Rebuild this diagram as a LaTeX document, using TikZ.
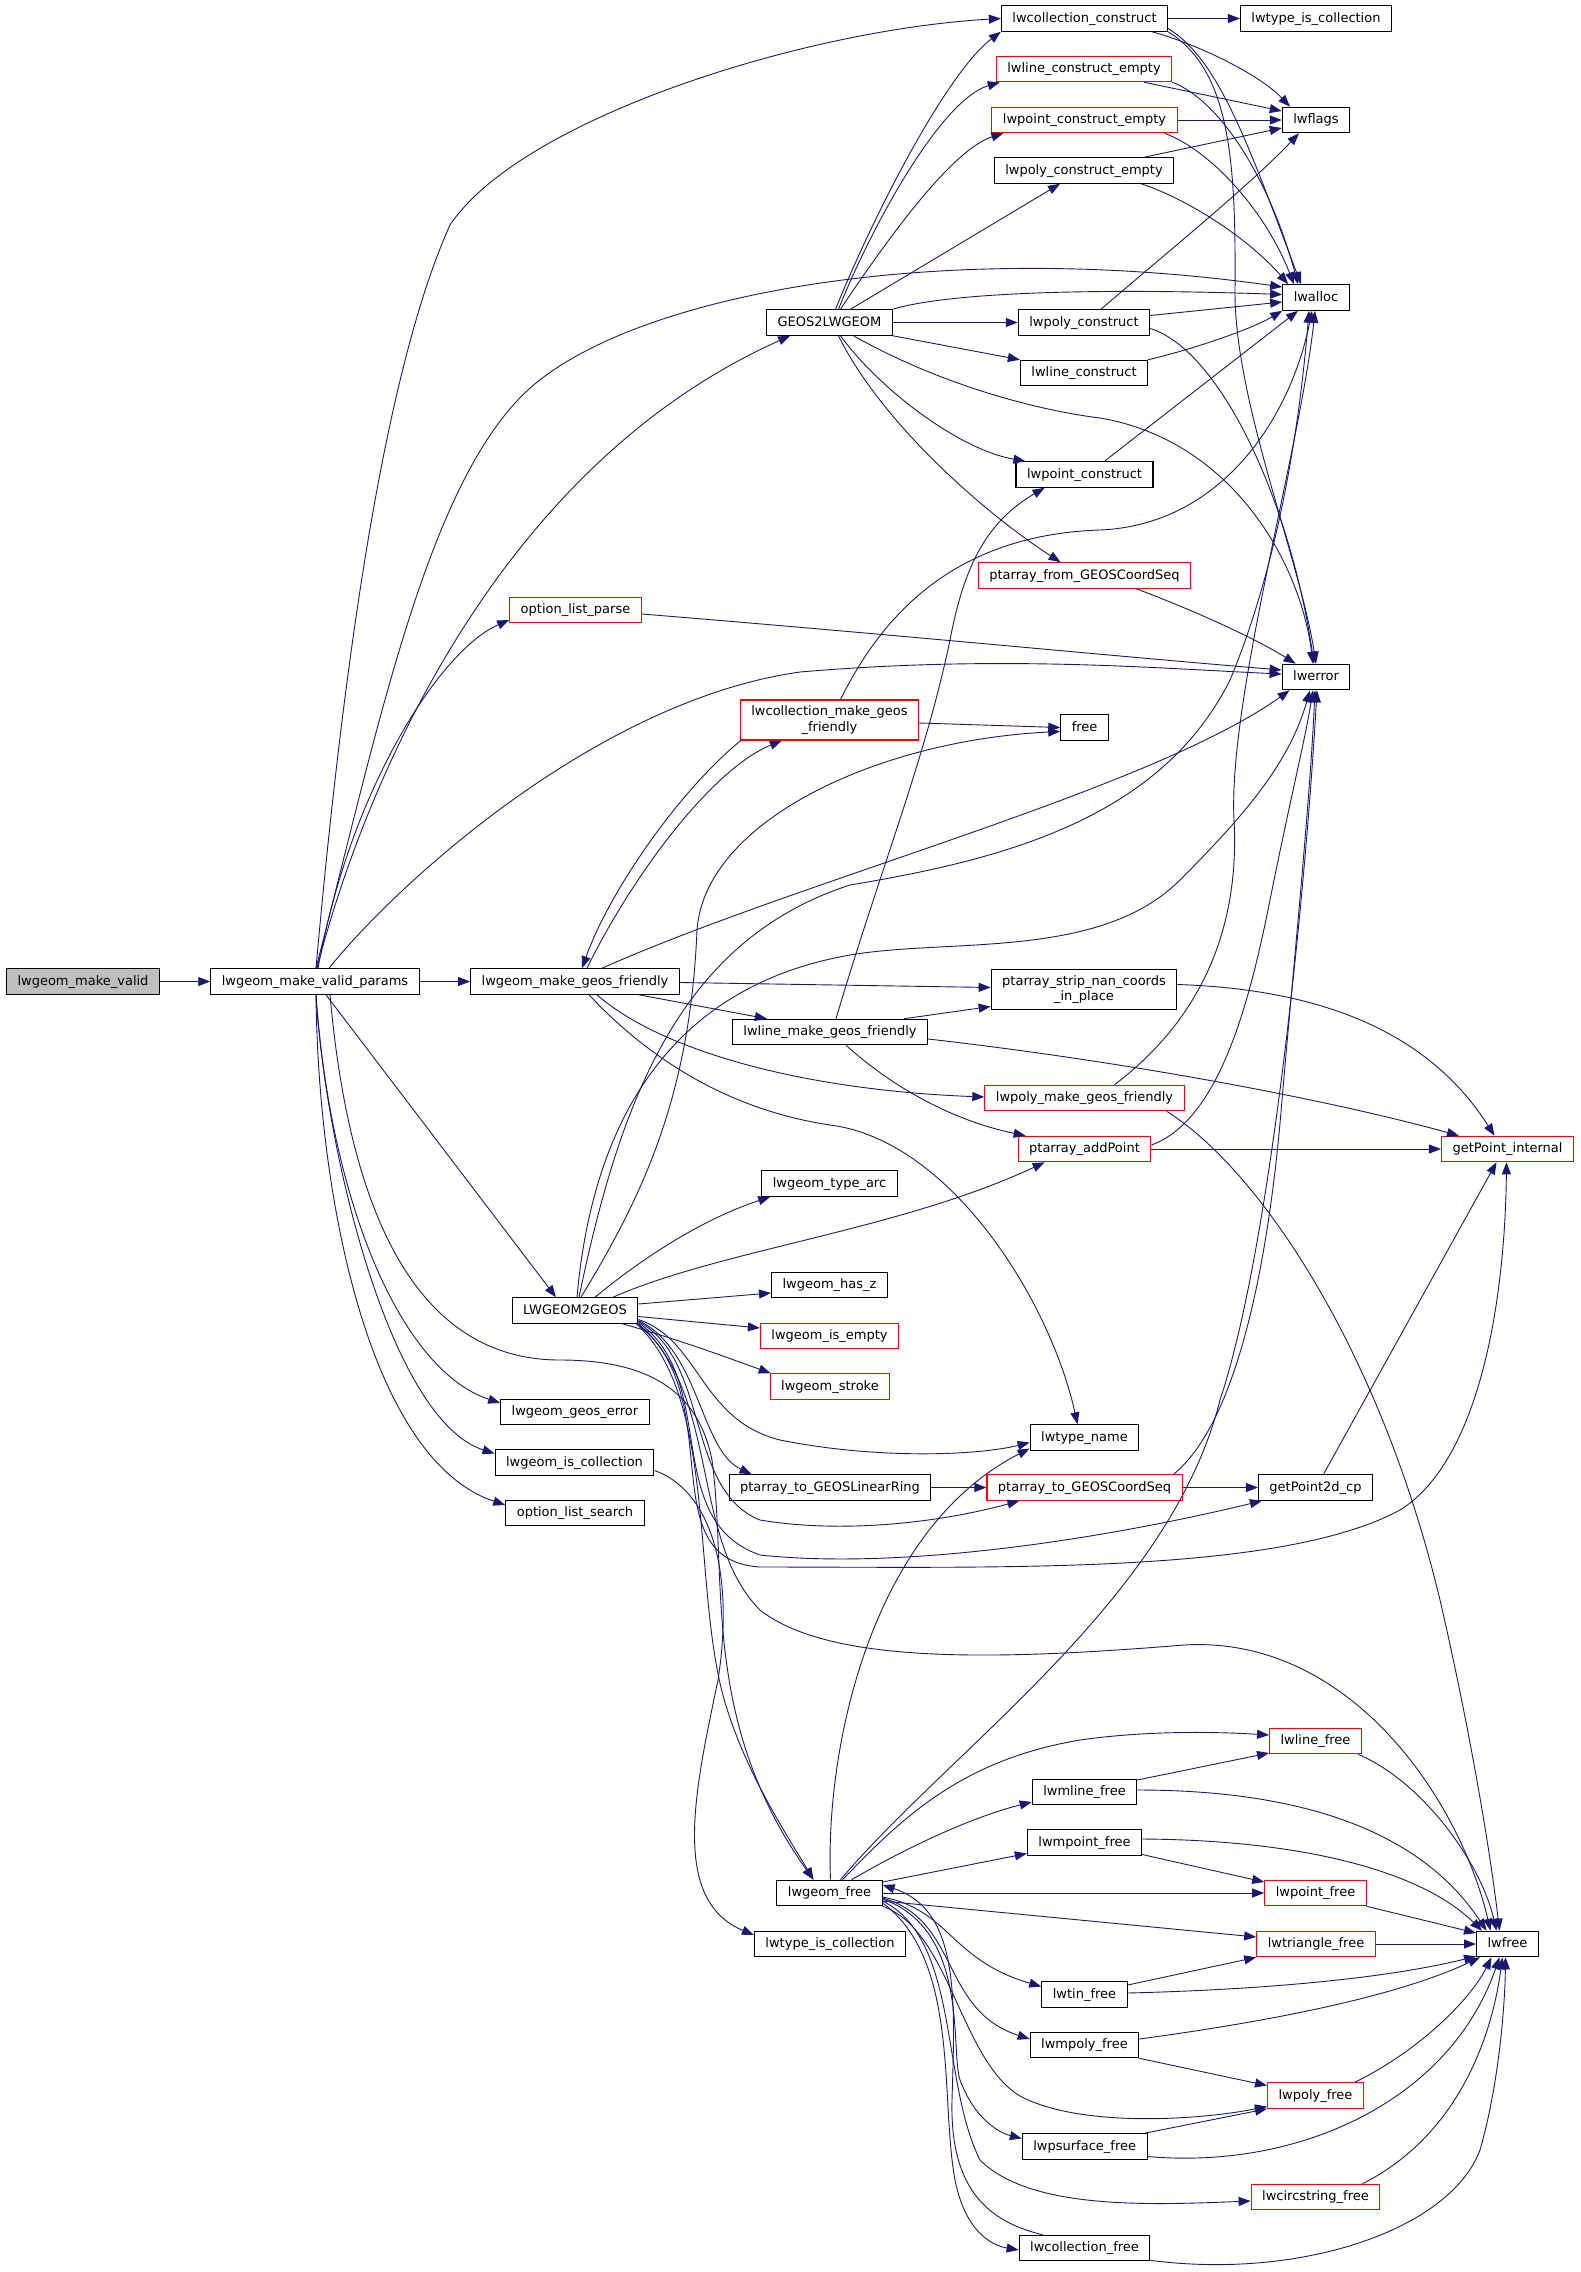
\documentclass[tikz,border=0pt]{standalone}
\usepackage{fontspec}
\setmainfont{DejaVu Sans}
\usetikzlibrary{arrows.meta,calc}
\definecolor{edgeblue}{HTML}{191970}
\definecolor{boxgray}{HTML}{BFBFBF}
\tikzset{
  fn/.style={draw=black, line width=1.1pt, fill=white, inner xsep=11pt, inner ysep=0pt,
    minimum height=25.5pt, font=\fontsize{13}{15.3}\selectfont, text height=10pt, text depth=2.2pt},
  fnr/.style={fn, draw=red},
  fng/.style={fn, fill=boxgray},
  fntwo/.style={draw=red, line width=1.1pt, fill=white, inner xsep=11pt, inner ysep=0pt,
    minimum height=40pt, font=\fontsize{13}{15.3}\selectfont, align=center},
  e/.style={draw=edgeblue, line width=0.9pt, -{Triangle[length=12pt,width=9pt]}},
}
\begin{document}
\begin{tikzpicture}[x=1pt,y=-1pt]
\fill[white] (0,0) rectangle (1580,2272);
\useasboundingbox (0,0) rectangle (1580,2272);
% ---------- nodes ----------
\node[fng] (mv) at (83,981.5) {lwgeom\_make\_valid};
\node[fn] (mvp) at (315,981.5) {lwgeom\_make\_valid\_params};
\node[fnr] (olp) at (575.5,610) {option\_list\_parse};
\node[fn] (lmgf) at (575,981.5) {lwgeom\_make\_geos\_friendly};
\node[fn] (l2g) at (575,1310.5) {LWGEOM2GEOS};
\node[fn] (lge) at (575,1412) {lwgeom\_geos\_error};
\node[fn] (lgic) at (574.5,1462.5) {lwgeom\_is\_collection};
\node[fn] (ols) at (575,1513) {option\_list\_search};
\node[fn] (g2l) at (829.5,322.5) {GEOS2LWGEOM};
\node[fntwo] (lcmgf) at (829.5,720) {lwcollection\_make\_geos\\\_friendly};
\node[fn] (llmgf) at (830,1032) {lwline\_make\_geos\_friendly};
\node[fn] (lta) at (829.5,1183.5) {lwgeom\_type\_arc};
\node[fn] (lhz) at (829.5,1285) {lwgeom\_has\_z};
\node[fnr] (lie) at (829.5,1336) {lwgeom\_is\_empty};
\node[fnr] (lst) at (830,1386.5) {lwgeom\_stroke};
\node[fn] (ptlr) at (830,1487.5) {ptarray\_to\_GEOSLinearRing};
\node[fn] (lgf) at (829.5,1893) {lwgeom\_free};
\node[fn] (ltic2) at (830,1944) {lwtype\_is\_collection};
\node[fn] (lcc) at (1084.5,18.5) {lwcollection\_construct};
\node[fnr] (llce) at (1084,69) {lwline\_construct\_empty};
\node[fnr] (lpce) at (1084.5,120) {lwpoint\_construct\_empty};
\node[fn] (lpyce) at (1084,170.5) {lwpoly\_construct\_empty};
\node[fn] (lpyc) at (1084,322.5) {lwpoly\_construct};
\node[fn] (llc) at (1084,373) {lwline\_construct};
\node[fn] (lptc) at (1084.5,474.5) {lwpoint\_construct};
\node[fnr] (pfg) at (1084.5,575.5) {ptarray\_from\_GEOSCoordSeq};
\node[fn] (fr) at (1084.6,727.5) {free};
\node[fntwo, draw=black] (psn) at (1084,989.5) {ptarray\_strip\_nan\_coords\\\_in\_place};
\node[fnr] (lpmgf) at (1084.5,1098) {lwpoly\_make\_geos\_friendly};
\node[fnr] (pap) at (1084.5,1149) {ptarray\_addPoint};
\node[fn] (ltn) at (1084.5,1437.5) {lwtype\_name};
\node[fnr] (ptcs) at (1084.5,1487.5) {ptarray\_to\_GEOSCoordSeq};
\node[fn] (lmlf) at (1084.5,1792) {lwmline\_free};
\node[fn] (lmptf) at (1084.5,1842.5) {lwmpoint\_free};
\node[fn] (ltinf) at (1084.5,1994.5) {lwtin\_free};
\node[fn] (lmpyf) at (1084.5,2045) {lwmpoly\_free};
\node[fn] (lpsf) at (1084.7,2146.5) {lwpsurface\_free};
\node[fn] (lcf) at (1084.5,2248) {lwcollection\_free};
\node[fn] (ltic) at (1316,18.5) {lwtype\_is\_collection};
\node[fn] (lfl) at (1316,120) {lwflags};
\node[fn] (lal) at (1316,297.5) {lwalloc};
\node[fn] (ler) at (1316,677) {lwerror};
\node[fn] (gp2) at (1315.5,1487.5) {getPoint2d\_cp};
\node[fnr] (llf) at (1315.5,1741) {lwline\_free};
\node[fnr] (lptf) at (1315.5,1893) {lwpoint\_free};
\node[fnr] (ltrf) at (1316,1944) {lwtriangle\_free};
\node[fnr] (lpyf) at (1315.5,2095.5) {lwpoly\_free};
\node[fnr] (lcsf) at (1315.5,2197) {lwcircstring\_free};
\node[fnr] (gpi) at (1507.5,1149) {getPoint\_internal};
\node[fn] (lfr) at (1507.5,1944) {lwfree};
% ---------- edges ----------
% lwgeom_make_valid / params
\draw[e] (mv.east) -- (mvp.west);
\draw[e] ($(mvp.north)+(1,0)$) .. controls (340,700) and (380,380) .. (450,225) .. controls (520,120) and (800,30) .. (lcc.west);
\draw[e] ($(mvp.north)+(1,0)$) .. controls (380,720) and (430,470) .. (536,383) .. controls (650,290) and (950,240) .. ($(lal.west)+(0,-10.5)$);
\draw[e] ($(mvp.north)+(2,0)$) .. controls (360,800) and (490,470) .. ($(g2l.south west)+(24,0)$);
\draw[e] ($(mvp.north)+(3,0)$) .. controls (350,790) and (440,650) .. ($(olp.west)+(0,10)$);
\draw[e] ($(mvp.north)+(14,0)$) .. controls (400,880) and (600,700) .. (800,672) .. controls (1000,655) and (1150,668) .. ($(ler.west)+(0,-3)$);
\draw[e] (mvp.east) -- (lmgf.west);
\draw[e] ($(mvp.south)+(11,0)$) -- ($(l2g.north)+(-19,0)$);
\draw[e] ($(mvp.south)+(1,0)$) .. controls (330,1200) and (400,1370) .. ($(lge.west)+(0,-9)$);
\draw[e] ($(mvp.south)+(1,0)$) .. controls (325,1150) and (390,1420) .. ($(lgic.west)+(0,-9)$);
\draw[e] ($(mvp.south)+(1,0)$) .. controls (318,1200) and (370,1460) .. ($(ols.west)+(0,-8)$);
\draw[e] ($(mvp.south)+(15,0)$) .. controls (350,1220) and (420,1360) .. (560,1360) .. controls (660,1360) and (700,1400) .. (712,1460) .. controls (728,1580) and (700,1720) .. ($(lgf.north)+(-16,0)$);
% GEOS2LWGEOM
\draw[e] ($(g2l.north)+(6,0)$) .. controls (880,200) and (950,70) .. (lcc.south west);
\draw[e] ($(g2l.north)+(9,0)$) .. controls (870,230) and (940,100) .. ($(llce.south west)+(4,0)$);
\draw[e] ($(g2l.north)+(11,0)$) .. controls (880,250) and (950,150) .. ($(lpce.south west)+(12,0)$);
\draw[e] ($(g2l.north)+(21,0)$) -- ($(lpyce.south)+(-24,0)$);
\draw[e] (g2l.north east) .. controls (950,292) and (1100,288) .. ($(lal.west)+(0,-3)$);
\draw[e] (g2l.east) -- (lpyc.west);
\draw[e] (g2l.south east) -- (llc.north west);
\draw[e] ($(g2l.south)+(24,0)$) .. controls (950,390) and (1050,412) .. (1100,418) .. controls (1230,440) and (1300,560) .. ($(ler.north)+(-3,0)$);
\draw[e] ($(g2l.south)+(11,0)$) .. controls (880,390) and (960,450) .. ($(lptc.north west)+(10,0)$);
\draw[e] ($(g2l.south)+(9,0)$) .. controls (880,420) and (980,510) .. ($(pfg.north)+(-24,0)$);
% constructors
\draw[e] (lcc.east) -- (ltic.west);
\draw[e] ($(lcc.south east)+(-16,0)$) .. controls (1200,45) and (1260,75) .. ($(lfl.north)+(-26,0)$);
\draw[e] ($(lcc.east)+(0,10)$) .. controls (1220,60) and (1250,150) .. ($(lal.north)+(-15,0)$);
\draw[e] (lcc.south east) .. controls (1230,70) and (1236,160) .. (1235,290) .. controls (1234,400) and (1300,560) .. (ler.north);
\draw[e] ($(llce.south east)+(-28,0)$) -- ($(lfl.west)+(0,-9)$);
\draw[e] (llce.south east) .. controls (1220,100) and (1270,180) .. ($(lal.north)+(-18,0)$);
\draw[e] (lpce.east) -- (lfl.west);
\draw[e] ($(lpce.south east)+(-13,0)$) .. controls (1210,150) and (1265,210) .. ($(lal.north)+(-22,0)$);
\draw[e] ($(lpyce.north east)+(-30,0)$) -- ($(lfl.west)+(0,8)$);
\draw[e] ($(lpyce.south east)+(-33,0)$) .. controls (1190,200) and (1250,240) .. ($(lal.north west)+(6,0)$);
\draw[e] ($(lpyc.north)+(17,0)$) .. controls (1170,250) and (1250,185) .. ($(lfl.south)+(-17,0)$);
\draw[e] ($(lpyc.east)+(0,-7)$) -- ($(lal.west)+(0,4.5)$);
\draw[e] ($(lpyc.east)+(0,6)$) .. controls (1220,350) and (1290,500) .. ($(ler.north)+(-2,0)$);
\draw[e] (llc.north east) .. controls (1190,350) and (1250,330) .. (lal.south west);
\draw[e] ($(lptc.north)+(20,0)$) -- ($(lal.south)+(-18,0)$);
\draw[e] ($(pfg.south east)+(-55,0)$) .. controls (1180,605) and (1250,635) .. ($(ler.north west)+(14,0)$);
% into lwalloc from below
\draw[e] ($(lcmgf.north)+(11,0)$) .. controls (880,620) and (950,535) .. (1100,530) .. controls (1220,525) and (1290,420) .. ($(lal.south)+(-4,0)$);
\draw[e] ($(l2g.north)+(4,0)$) .. controls (620,1100) and (680,940) .. (850,885) .. controls (1000,860) and (1160,820) .. (1230,680) .. controls (1280,560) and (1300,420) .. ($(lal.south)+(-7,0)$);
\draw[e] ($(lpmgf.north)+(30,0)$) .. controls (1200,1020) and (1240,930) .. (1234,820) .. controls (1228,700) and (1300,450) .. ($(lal.south)+(-1,0)$);
% into lwerror
\draw[e] ($(olp.east)+(0,4)$) .. controls (900,635) and (1100,655) .. ($(ler.west)+(0,-7)$);
\draw[e] ($(lmgf.north)+(27,0)$) .. controls (800,880) and (1150,790) .. ($(ler.south west)+(8,0)$);
\draw[e] ($(l2g.north)+(2,0)$) .. controls (590,1150) and (650,990) .. (850,955) .. controls (950,938) and (1100,960) .. (1180,880) .. controls (1250,810) and (1290,760) .. ($(ler.south)+(-6,0)$);
\draw[e] ($(pap.east)+(0,-4)$) .. controls (1220,1120) and (1250,1000) .. (1270,900) .. controls (1290,800) and (1305,740) .. ($(ler.south)+(-3,0)$);
\draw[e] ($(ptcs.north east)+(-9,0)$) .. controls (1240,1420) and (1270,1250) .. (1282,1100) .. controls (1295,950) and (1310,800) .. ($(ler.south)+(-1,0)$);
\draw[e] ($(lgf.north)+(11,0)$) .. controls (950,1750) and (1170,1600) .. (1220,1400) .. controls (1270,1250) and (1305,900) .. ($(ler.south)+(1,0)$);
% free
\draw[e] ($(lcmgf.east)+(0,3)$) -- (fr.west);
\draw[e] ($(l2g.north)+(6,0)$) .. controls (640,1200) and (690,1100) .. (697,930) .. controls (705,820) and (880,740) .. ($(fr.west)+(0,4)$);
% make_geos_friendly family
\draw[e] ($(lcmgf.south west)+(1,0)$) .. controls (680,790) and (610,890) .. ($(lmgf.north)+(7,0)$);
\draw[e] ($(lmgf.north)+(12,0)$) .. controls (630,880) and (710,770) .. ($(lcmgf.south west)+(42,0)$);
\draw[e] ($(lmgf.east)+(0,1)$) -- ($(psn.west)+(0,-2)$);
\draw[e] ($(lmgf.south east)+(-41,0)$) -- ($(llmgf.north west)+(35,0)$);
\draw[e] ($(lmgf.south)+(22,0)$) .. controls (660,1050) and (800,1090) .. ($(lpmgf.west)+(0,-1)$);
\draw[e] ($(lmgf.south)+(14,0)$) .. controls (650,1060) and (730,1110) .. (830,1125) .. controls (950,1140) and (1050,1300) .. ($(ltn.north)+(-7,0)$);
\draw[e] ($(llmgf.north east)+(-24,0)$) -- ($(psn.west)+(0,17)$);
\draw[e] ($(llmgf.east)+(0,7)$) .. controls (1130,1062) and (1330,1100) .. ($(gpi.north west)+(18,0)$);
\draw[e] ($(llmgf.south)+(16,0)$) .. controls (890,1085) and (950,1120) .. ($(pap.north west)+(8,0)$);
\draw[e] ($(llmgf.north)+(6,0)$) .. controls (880,870) and (925,760) .. (950,640) .. controls (965,560) and (990,520) .. ($(lptc.south)+(-40,0)$);
\draw[e] ($(lpmgf.south east)+(-18,0)$) .. controls (1260,1170) and (1380,1350) .. (1440,1600) .. controls (1470,1730) and (1490,1850) .. ($(lfr.north)+(-8,0)$);
\draw[e] ($(psn.east)+(0,-5)$) .. controls (1350,990) and (1440,1050) .. ($(gpi.north)+(-13,0)$);
\draw[e] (pap.east) -- (gpi.west);
\draw[e] ($(gp2.north)+(8,0)$) -- ($(gpi.south)+(-11,0)$);
\draw[e] (ptcs.east) -- (gp2.west);
\draw[e] (ptlr.east) -- (ptcs.west);
% LWGEOM2GEOS
\draw[e] ($(l2g.north)+(20,0)$) .. controls (640,1260) and (700,1220) .. ($(lta.south west)+(9,0)$);
\draw[e] ($(l2g.north)+(38,0)$) .. controls (720,1250) and (900,1230) .. ($(pap.south west)+(27,0)$);
\draw[e] ($(l2g.east)+(0,-6.5)$) -- ($(lhz.west)+(0,8)$);
\draw[e] ($(l2g.east)+(0,6)$) -- ($(lie.west)+(0,-8)$);
\draw[e] ($(l2g.south east)+(-16,0)$) .. controls (680,1340) and (720,1355) .. ($(lst.north west)+(1,0)$);
\draw[e] ($(l2g.east)+(0,9)$) .. controls (700,1340) and (700,1420) .. (780,1440) .. controls (880,1460) and (980,1455) .. ($(ltn.west)+(0,5)$);
\draw[e] ($(l2g.east)+(0,10)$) .. controls (700,1350) and (700,1450) .. ($(ptlr.north west)+(23,0)$);
\draw[e] ($(l2g.east)+(0,11)$) .. controls (710,1360) and (685,1490) .. (760,1520) .. controls (850,1535) and (950,1520) .. ($(ptcs.south west)+(33,0)$);
\draw[e] ($(l2g.east)+(0,12)$) .. controls (720,1380) and (660,1520) .. (760,1555) .. controls (900,1570) and (1100,1540) .. ($(gp2.south west)+(4,0)$);
\draw[e] (l2g.south east) .. controls (730,1400) and (650,1560) .. (760,1567) .. controls (1000,1567) and (1280,1575) .. (1400,1510) .. controls (1480,1460) and (1505,1300) .. ($(gpi.south)+(-1,0)$);
\draw[e] ($(l2g.south east)+(-1,0)$) .. controls (720,1390) and (690,1540) .. (760,1610) .. controls (830,1665) and (1000,1660) .. (1184,1645) .. controls (1350,1635) and (1460,1800) .. ($(lfr.north)+(-17,0)$);
\draw[e] ($(l2g.south east)+(-2,0)$) .. controls (720,1400) and (690,1600) .. (728,1712) .. controls (750,1780) and (790,1840) .. ($(lgf.north)+(-16,0)$);
% lwgeom_is_collection
\draw[e] ($(lgic.east)+(0,8)$) .. controls (710,1490) and (735,1570) .. (718,1680) .. controls (695,1790) and (670,1900) .. ($(ltic2.west)+(0,-9)$);
% lwgeom_free
\draw[e] ($(lgf.north)+(1,0)$) .. controls (825,1750) and (870,1530) .. ($(ltn.west)+(0,11)$);
\draw[e] ($(lgf.north)+(13,0)$) .. controls (900,1820) and (960,1760) .. (1080,1740) .. controls (1150,1730) and (1220,1732) .. ($(llf.west)+(0,-6)$);
\draw[e] ($(lgf.north)+(22,0)$) .. controls (920,1840) and (980,1815) .. ($(lmlf.west)+(0,10)$);
\draw[e] ($(lgf.east)+(0,-11)$) -- ($(lmptf.west)+(0,11)$);
\draw[e] (lgf.east) -- (lptf.west);
\draw[e] ($(lgf.east)+(0,8)$) -- ($(ltrf.west)+(0,-7)$);
\draw[e] ($(lgf.east)+(0,4)$) .. controls (950,1910) and (950,1960) .. ($(ltinf.west)+(0,-8)$);
\draw[e] ($(lgf.east)+(0,5)$) .. controls (960,1920) and (940,2010) .. ($(lmpyf.west)+(0,-6)$);
\draw[e] ($(lgf.east)+(0,6)$) .. controls (970,1930) and (950,2050) .. (960,2080) .. controls (975,2120) and (1000,2133) .. ($(lpsf.west)+(0,-8)$);
\draw[e] (lgf.south east) .. controls (950,1930) and (960,2060) .. (1020,2096) .. controls (1080,2128) and (1200,2120) .. ($(lpyf.west)+(0,11)$);
\draw[e] ($(lgf.east)+(0,8)$) .. controls (960,1940) and (940,2080) .. (980,2160) .. controls (1030,2210) and (1150,2205) .. ($(lcsf.west)+(0,4)$);
\draw[e] ($(lgf.east)+(0,10)$) .. controls (960,1960) and (940,2100) .. (955,2180) .. controls (965,2230) and (990,2245) .. ($(lcf.west)+(0,2)$);
\draw[e] ($(lcf.north west)+(24,0)$) .. controls (980,2220) and (950,2180) .. (952,2100) .. controls (955,2000) and (960,1910) .. ($(lgf.east)+(0,-8)$);
\draw[e] ($(lcf.south east)+(0,-1)$) .. controls (1300,2280) and (1450,2230) .. (1480,2150) .. controls (1500,2080) and (1505,2000) .. ($(lfr.south)+(-2,0)$);
% free functions
\draw[e] ($(llf.south east)+(-4,0)$) .. controls (1420,1780) and (1480,1860) .. ($(lfr.north)+(-11,0)$);
\draw[e] ($(lmlf.east)+(0,-12)$) -- ($(llf.west)+(0,12)$);
\draw[e] ($(lmlf.east)+(0,-2)$) .. controls (1300,1790) and (1420,1830) .. ($(lfr.north)+(-21,0)$);
\draw[e] ($(lmptf.east)+(0,-3.5)$) .. controls (1300,1840) and (1420,1870) .. ($(lfr.north west)+(6,0)$);
\draw[e] ($(lmptf.east)+(0,12)$) -- ($(lptf.west)+(0,-11)$);
\draw[e] (lptf.south east) -- ($(lfr.west)+(0,-11)$);
\draw[e] (ltrf.east) -- (lfr.west);
\draw[e] ($(ltinf.east)+(0,-9.5)$) -- (ltrf.south west);
\draw[e] ($(ltinf.east)+(0,-1.5)$) .. controls (1250,1990) and (1380,1980) .. ($(lfr.south west)+(0,-1)$);
\draw[e] ($(lmpyf.east)+(0,-6)$) .. controls (1280,2020) and (1400,1995) .. ($(lfr.south west)+(4,0)$);
\draw[e] (lmpyf.south east) -- ($(lpyf.west)+(0,-10)$);
\draw[e] ($(lpyf.north east)+(-9,0)$) .. controls (1420,2050) and (1470,2000) .. ($(lfr.south)+(-16,0)$);
\draw[e] ($(lpsf.north east)+(-3,0)$) -- (lpyf.south west);
\draw[e] ($(lpsf.east)+(0,10)$) .. controls (1300,2170) and (1450,2100) .. ($(lfr.south)+(-8,0)$);
\draw[e] ($(lcsf.north east)+(-18,0)$) .. controls (1450,2140) and (1490,2050) .. ($(lfr.south)+(-5,0)$);
\end{tikzpicture}
\end{document}
